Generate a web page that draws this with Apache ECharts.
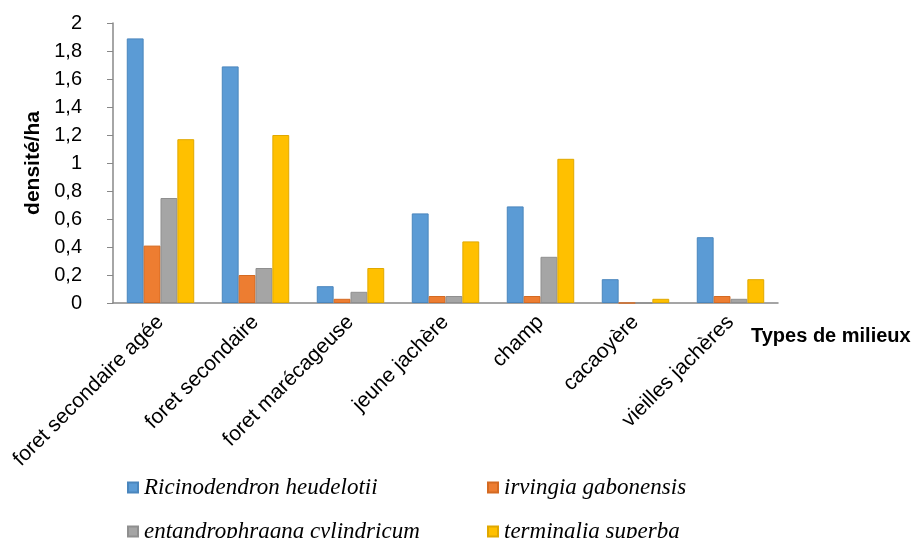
<!DOCTYPE html>
<html><head><meta charset="utf-8">
<script src="https://cdn.jsdelivr.net/npm/echarts@6/dist/echarts.min.js"></script>
<style>html,body{margin:0;padding:0;background:#fff}#c{width:916px;height:538px}</style>
</head><body><div id="c"></div>
<script>
const categories = ["foret secondaire agée","foret secondaire","foret marécageuse","jeune jachère","champ","cacaoyère","vieilles jachères"];
const seriesNames = ["Ricinodendron heudelotii","irvingia gabonensis","entandrophragna cylindricum","terminalia superba"];
const ricinodendron = [1.89,1.69,0.12,0.64,0.69,0.17,0.47];
const irvingia = [0.41,0.20,0.03,0.05,0.05,0,0.05];
const entandrophragma = [0.75,0.25,0.08,0.05,0.33,0,0.03];
const terminalia = [1.17,1.20,0.25,0.44,1.03,0.03,0.17];
const yTicks = [0,0.2,0.4,0.6,0.8,1,1.2,1.4,1.6,1.8,2];
const colors = ["#5B9BD5","#ED7D31","#A5A5A5","#FFC000"];
const borders = ["#4a86bd","#d46a22","#8f8f8f","#e0a800"];
const allData = [ricinodendron, irvingia, entandrophragma, terminalia];

const chart = echarts.init(document.getElementById('c'));
const legendPos = [[127,476],[487,476],[127,520],[487,520]];
chart.setOption({
  animation:false,
  backgroundColor:'#fff',
  grid:{left:113,right:138,top:23,bottom:235,containLabel:false},
  title:{text:'Types de milieux',left:751,top:326,padding:0,textStyle:{fontFamily:'Liberation Sans',fontSize:20,fontWeight:'bold',color:'#000'}},
  legend: seriesNames.map((n,i)=>({data:[n],left:legendPos[i][0],top:legendPos[i][1],padding:0,itemWidth:10,itemHeight:10,icon:'rect',itemGap:4,
    textStyle:{fontFamily:'Liberation Serif',fontStyle:'italic',fontSize:23,color:'#000',padding:[0,0,0,1]}})),
  xAxis:{type:'category',data:categories,
    axisLine:{lineStyle:{color:'#888',width:1.5}},axisTick:{show:false},
    axisLabel:{rotate:45,fontFamily:'Liberation Sans',fontSize:21,color:'#000',margin:16,interval:0}},
  yAxis:{type:'value',min:0,max:2,interval:0.2,
    name:'densité/ha',nameLocation:'middle',nameGap:63,nameRotate:90,
    nameTextStyle:{fontFamily:'Liberation Sans',fontSize:21,fontWeight:'bold',color:'#000'},
    axisLine:{show:true,lineStyle:{color:'#888',width:1.5}},axisTick:{show:true,length:6,lineStyle:{color:'#888'}},
    splitLine:{show:false},
    axisLabel:{fontFamily:'Liberation Sans',fontSize:20,color:'#000',margin:31,
      formatter:v=>{const t=yTicks.find(x=>Math.abs(x-v)<1e-9);return String(Math.round((t??v)*10)/10).replace('.',',');}}},
  series: seriesNames.map((n,i)=>({name:n,type:'bar',data:allData[i],barGap:'0%',barCategoryGap:'29%',
    itemStyle:{color:colors[i],borderColor:borders[i],borderWidth:1}}))
});
</script></body></html>
